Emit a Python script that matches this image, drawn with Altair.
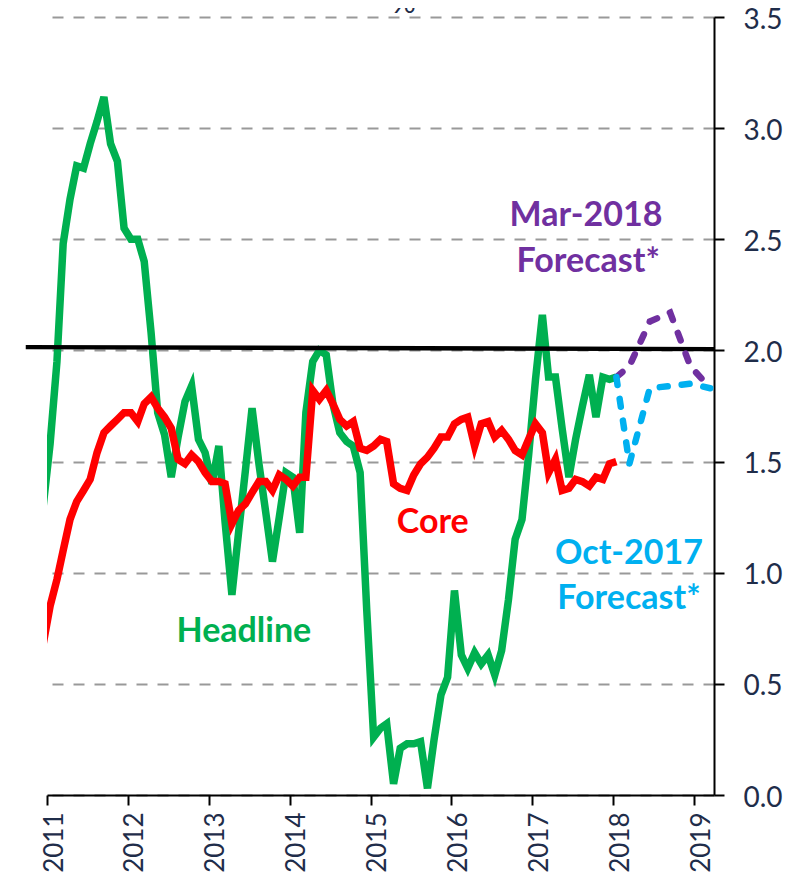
import altair as alt
import pandas as pd

# ---- data (monthly, mid-month, Dec-2010 .. Jan-2018) ----
first_year, first_month = 2010, 12
headline = [1.30, 1.58, 1.95, 2.48, 2.68, 2.83, 2.82, 2.93, 3.03, 3.14, 2.93, 2.85,
            2.55, 2.50, 2.50, 2.40, 2.08, 1.72, 1.62, 1.43, 1.61, 1.77, 1.84, 1.60,
            1.54, 1.40, 1.57, 1.23, 0.90, 1.18, 1.46, 1.74, 1.49, 1.27, 1.05, 1.25,
            1.45, 1.43, 1.18, 1.72, 1.95, 2.00, 1.98, 1.76, 1.63, 1.59, 1.57, 1.45,
            0.83, 0.26, 0.30, 0.32, 0.05, 0.21, 0.23, 0.23, 0.24, 0.03, 0.25, 0.45,
            0.53, 0.92, 0.63, 0.57, 0.64, 0.59, 0.63, 0.54, 0.65, 0.88, 1.15, 1.24,
            1.53, 1.87, 2.16, 1.88, 1.88, 1.65, 1.43, 1.60, 1.75, 1.89, 1.70, 1.88,
            1.87, 1.88]
core = [0.68, 0.85, 0.97, 1.10, 1.24, 1.32, 1.37, 1.42, 1.54, 1.63, 1.66, 1.69,
        1.72, 1.72, 1.68, 1.76, 1.79, 1.74, 1.70, 1.65, 1.51, 1.49, 1.53, 1.50,
        1.45, 1.41, 1.41, 1.40, 1.22, 1.28, 1.31, 1.36, 1.41, 1.41, 1.37, 1.44,
        1.42, 1.39, 1.43, 1.43, 1.82, 1.78, 1.82, 1.76, 1.69, 1.66, 1.68, 1.56,
        1.55, 1.57, 1.60, 1.59, 1.40, 1.38, 1.37, 1.44, 1.49, 1.52, 1.56, 1.61,
        1.61, 1.67, 1.69, 1.70, 1.57, 1.67, 1.68, 1.61, 1.64, 1.60, 1.55, 1.53,
        1.60, 1.67, 1.63, 1.45, 1.51, 1.37, 1.38, 1.42, 1.41, 1.39, 1.43, 1.42,
        1.49, 1.50]

forecast_dates = ["2018-01-15", "2018-03-15", "2018-06-15", "2018-09-15",
                  "2018-12-15", "2019-03-15"]
mar2018_forecast = [1.88, 1.93, 2.13, 2.17, 1.93, 1.83]
oct2017_forecast = [1.88, 1.49, 1.83, 1.84, 1.85, 1.83]

target_dates = ["2010-09-27", "2019-04-01"]
target_values = [2.015, 2.006]

label_texts = ["Headline", "Core", "Oct-2017", "Forecast*", "Mar-2018", "Forecast*"]
label_dates = ["2013-06-08", "2015-10-09", "2018-03-13", "2018-03-13", "2017-08-31", "2017-09-10"]
label_values = [0.735, 1.225, 1.085, 0.883, 2.605, 2.40]
label_colors = ["#00B050", "#FF0000", "#00B0F0", "#00B0F0", "#7030A0", "#7030A0"]

year_ticks = list(range(2011, 2020))
y_ticks = [0.0, 0.5, 1.0, 1.5, 2.0, 2.5, 3.0, 3.5]


def month_dates(n):
    out = []
    y, m = first_year, first_month
    for _ in range(n):
        out.append(f"{y}-{m:02d}-15T00:00:00")
        m += 1
        if m > 12:
            m = 1
            y += 1
    return out


dates = month_dates(len(headline))
hist = pd.DataFrame({"date": dates, "headline": headline, "core": core})
fc = pd.DataFrame({"date": [d + "T00:00:00" for d in forecast_dates],
                   "mar": mar2018_forecast, "oct": oct2017_forecast})
tgt = pd.DataFrame({"date": [target_dates[0] + "T00:00:00"], "date2": [target_dates[1] + "T00:00:00"],
                    "value": [target_values[0]], "value2": [target_values[1]]})
labels = pd.DataFrame({"text": label_texts, "date": [d + "T00:00:00" for d in label_dates],
                       "value": label_values, "color": label_colors})
pct = pd.DataFrame({"text": ["%"], "date": ["2015-05-31T00:00:00"], "value": [3.518]})

NAVY = "#1F2D4A"
FONT = "Lato"

x_scale = alt.Scale(domain=[alt.DateTime(year=2011, month=1, date=1),
                            alt.DateTime(year=2019, month=4, date=1)])
y_scale = alt.Scale(domain=[0, 3.5], nice=False, zero=False)

x_axis = alt.Axis(values=[alt.DateTime(year=y, month=1, date=1) for y in year_ticks],
                  format="%Y", labelAngle=270, labelAlign="right", labelBaseline="middle",
                  labelPadding=7, labelOffset=7, labelFlush=False, labelOverlap=False,
                  labelFont=FONT, labelFontSize=26, labelColor=NAVY,
                  domainColor="black", domainWidth=2, tickColor="black", tickWidth=2,
                  tickSize=10, grid=False, title=None, zindex=1)
y_axis = alt.Axis(orient="right", values=y_ticks, format=".1f", labelFont=FONT,
                  labelFontSize=28, labelColor=NAVY, labelPadding=19, labelOffset=3,
                  labelFlush=False, tickSize=10, tickWidth=2, tickColor="black",
                  domainColor="black", domainWidth=2, grid=True, gridColor="#999999",
                  gridDash=[11, 10], gridWidth=2, title=None)

X = alt.X("date:T", scale=x_scale, axis=x_axis)

green = alt.Chart(hist).mark_line(clip=True, strokeWidth=7.5, color="#00B050").encode(
    x=X, y=alt.Y("headline:Q", scale=y_scale, axis=y_axis))
red = alt.Chart(hist).mark_line(clip=True, strokeWidth=7.5, color="#FF0000").encode(
    x=alt.X("date:T"), y=alt.Y("core:Q"))
target = alt.Chart(tgt).mark_rule(strokeWidth=4.3, color="black").encode(
    x=alt.X("date:T"), x2="date2:T", y=alt.Y("value:Q"), y2="value2:Q")
purple = alt.Chart(fc).mark_line(strokeWidth=6.5, color="#7030A0", strokeDash=[8, 14],
                                 strokeCap="round").encode(x=alt.X("date:T"), y=alt.Y("mar:Q"))
blue = alt.Chart(fc).mark_line(strokeWidth=6.5, color="#00B0F0", strokeDash=[8, 14],
                               strokeCap="round").encode(x=alt.X("date:T"), y=alt.Y("oct:Q"))
texts = alt.Chart(labels).mark_text(font=FONT, fontSize=34, fontWeight="bold",
                                    baseline="middle", align="center").encode(
    x=alt.X("date:T"), y=alt.Y("value:Q"), text="text:N", color=alt.Color("color:N", scale=None))
pct_text = alt.Chart(pct).mark_text(font=FONT, fontSize=30, color=NAVY,
                                    baseline="alphabetic", align="center").encode(
    x=alt.X("date:T"), y=alt.Y("value:Q"), text="text:N")

chart = alt.layer(green, red, target, purple, blue, texts, pct_text).properties(
    width=667, height=778,
    autosize=alt.AutoSizeParams(type="none"),
    padding={"left": 39, "top": 9, "right": 81, "bottom": 77},
    background="white",
).configure_view(stroke=None)

chart.save("out.html", embed_options={"renderer": "svg", "actions": False})
